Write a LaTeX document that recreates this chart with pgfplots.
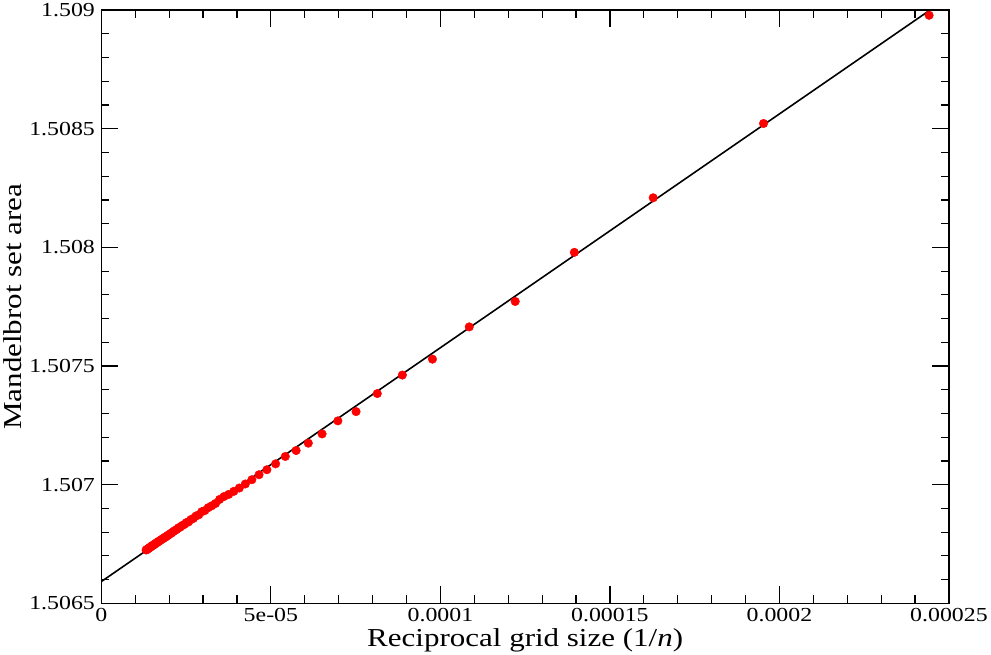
\documentclass[border=0pt]{standalone}
\usepackage{pgfplots}
\pgfplotsset{compat=1.18}
\usepackage{fontspec}
\setmainfont[FakeStretch=1.2]{Liberation Serif}
\begin{document}
\begin{tikzpicture}
\begin{axis}[
 width=850bp, height=595bp, scale only axis,
 xmin=0, xmax=0.00025, ymin=1.5065, ymax=1.509,
 xtick={0,0.00005,0.0001,0.00015,0.0002,0.00025},
 xticklabels={0,5e-05,0.0001,0.00015,0.0002,0.00025},
 minor x tick num=4,
 ytick={1.5065,1.507,1.5075,1.508,1.5085,1.509},
 yticklabels={1.5065,1.507,1.5075,1.508,1.5085,1.509},
 minor y tick num=4,
 tick align=inside,
 major tick length=17bp, minor tick length=8bp,
 every tick/.style={black, line width=1.2bp},
 axis line style={line width=1.5bp},
 /pgf/number format/assume math mode=true,
 tick label style={font=\fontsize{20}{21}\selectfont},
 xticklabel style={yshift=-1bp},
 yticklabel style={xshift=-3bp},
 label style={font=\fontsize{26}{27}\selectfont},
 xlabel={Reciprocal grid size (1/\textit{n})},
 ylabel={Mandelbrot set area},
 xlabel style={yshift=0bp},
 ylabel style={yshift=1bp},
 scaled ticks=false,
]
\addplot[only marks, mark=*, mark size=4.3bp, red, mark options={draw=red, fill=red}] table[row sep=\\] {
x y\\
0.00024414 1.508978\\
0.00019531 1.508522\\
0.00016276 1.508209\\
0.00013951 1.507979\\
0.00012207 1.507772\\
0.00010851 1.507665\\
0.000097656 1.507529\\
0.000088778 1.507462\\
0.000081380 1.507384\\
0.000075120 1.507308\\
0.000069754 1.507269\\
0.000065104 1.507214\\
0.000061035 1.507175\\
0.000057445 1.507144\\
0.000054253 1.507119\\
0.000051398 1.507088\\
0.000048828 1.507063\\
0.000046503 1.507042\\
0.000044389 1.507021\\
0.000042459 1.507003\\
0.000040690 1.506986\\
0.000039063 1.506972\\
0.000037560 1.506959\\
0.000036169 1.506950\\
0.000034877 1.506938\\
0.000033675 1.506921\\
0.000032552 1.506911\\
0.000031502 1.506903\\
0.000030518 1.506891\\
0.000029593 1.506886\\
0.000028722 1.506873\\
0.000027902 1.506868\\
0.000027127 1.506858\\
0.000026394 1.506853\\
0.000025699 1.506843\\
0.000025040 1.506840\\
0.000024414 1.506832\\
0.000023819 1.506828\\
0.000023251 1.506821\\
0.000022711 1.506818\\
0.000022195 1.506811\\
0.000021701 1.506807\\
0.000021230 1.506803\\
0.000020778 1.506797\\
0.000020345 1.506794\\
0.000019930 1.506789\\
0.000019531 1.506786\\
0.000019148 1.506781\\
0.000018780 1.506779\\
0.000018426 1.506775\\
0.000018084 1.506772\\
0.000017756 1.506769\\
0.000017439 1.506766\\
0.000017133 1.506763\\
0.000016837 1.506760\\
0.000016552 1.506758\\
0.000016276 1.506755\\
0.000016009 1.506752\\
0.000015751 1.506750\\
0.000015501 1.506747\\
0.000015259 1.506745\\
0.000015024 1.506743\\
0.000014796 1.506741\\
0.000014576 1.506738\\
0.000014361 1.506736\\
0.000014153 1.506734\\
0.000013951 1.506732\\
0.000013754 1.506730\\
0.000013563 1.506728\\
0.000013377 1.506726\\
0.000013197 1.506725\\
};
\addplot[black, line width=1.6bp] coordinates {(0,1.506592) (0.00025,1.509055)};
\end{axis}
\end{tikzpicture}
\end{document}
